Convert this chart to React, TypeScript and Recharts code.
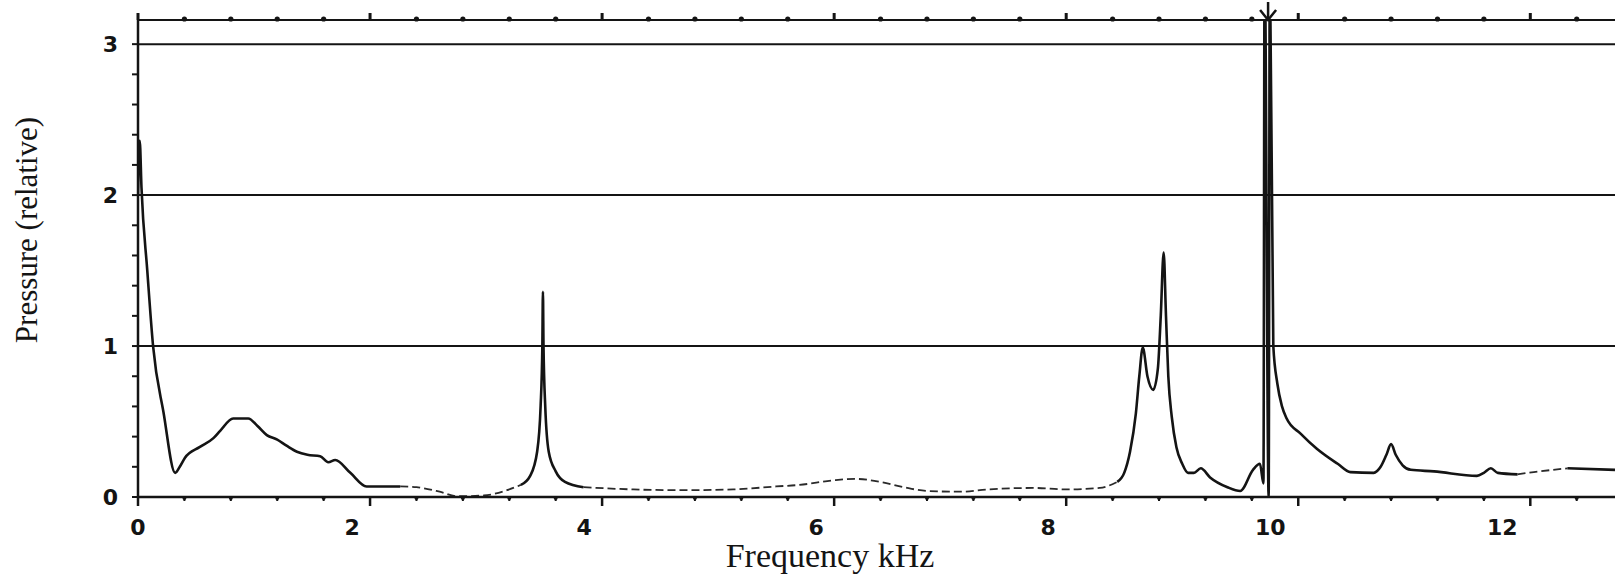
import { LineChart, Line, XAxis, YAxis, ReferenceLine, ReferenceDot } from "recharts";

// frequency (kHz) and relative pressure
const freq = [
  0, 0.015, 0.03, 0.08, 0.13, 0.22, 0.32, 0.36, 0.405, 0.53, 0.65, 0.71, 0.82, 0.95, 1.03, 1.11,
  1.2, 1.28, 1.37, 1.46, 1.57, 1.64, 1.7, 1.83, 1.97, 2.26, 2.4, 2.6, 2.75, 2.98, 3.18, 3.3,
  3.38, 3.44, 3.47, 3.485, 3.49, 3.495, 3.51, 3.54, 3.6, 3.68, 3.84, 4.27, 4.7, 5.13, 5.5, 5.7,
  5.99, 6.18, 6.4, 6.6, 6.8, 7.09, 7.32, 7.72, 8.0, 8.29, 8.44, 8.5, 8.55, 8.6, 8.63, 8.66,
  8.7, 8.75, 8.79, 8.815, 8.84, 8.86, 8.88, 8.91, 8.95, 9.0, 9.05, 9.1, 9.16, 9.24, 9.39, 9.5,
  9.61, 9.67, 9.7, 9.71, 9.745, 9.755, 9.785, 9.82, 9.86, 9.9, 10.02, 10.16, 10.34, 10.45, 10.65,
  10.71, 10.76, 10.8, 10.84, 10.9, 10.97, 11.17, 11.54, 11.6, 11.66, 11.72, 11.89, 12.03, 12.32,
  12.73,
];
const pressure = [
  2.0, 2.36, 2.05, 1.5, 1.0, 0.56, 0.16, 0.2, 0.26, 0.33, 0.39, 0.44, 0.52, 0.52, 0.47, 0.41,
  0.38, 0.34, 0.3, 0.28, 0.27, 0.23, 0.245, 0.16, 0.07, 0.07, 0.065, 0.035, 0.005, 0.01, 0.045, 0.08,
  0.14, 0.3, 0.6, 1.0, 1.36, 1.0, 0.6, 0.3, 0.17, 0.1, 0.065, 0.05, 0.045, 0.05, 0.07, 0.08,
  0.11, 0.12, 0.1, 0.065, 0.04, 0.035, 0.05, 0.06, 0.05, 0.06, 0.1, 0.16, 0.3, 0.55, 0.8, 0.99,
  0.8, 0.71, 0.85, 1.2, 1.62, 1.2, 0.8, 0.53, 0.33, 0.22, 0.16, 0.16, 0.19, 0.13, 0.065, 0.04,
  0.18, 0.22, 0.09, 3.6, 0, 3.6, 1.0, 0.75, 0.6, 0.52, 0.42, 0.32, 0.22, 0.165, 0.16,
  0.2, 0.28, 0.35, 0.28, 0.21, 0.18, 0.17, 0.14, 0.16, 0.19, 0.16, 0.15, 0.165, 0.19,
  0.18,
];
// stretches where the pen trace is faint / broken
const faintRanges = [
  [2.26, 3.3],
  [3.84, 8.44],
  [11.89, 12.32],
];

const xTicks = [
  0, 0.4, 0.8, 1.2, 1.6, 2, 2.4, 2.8, 3.2, 3.6, 4, 4.4, 4.8, 5.2, 5.6, 6, 6.4, 6.8, 7.2, 7.6, 8,
  8.4, 8.8, 9.2, 9.6, 10, 10.4, 10.8, 11.2, 11.6, 12, 12.4,
];
const xLabels = [0, 2, 4, 6, 8, 10, 12];
const yTicks = [0, 0.2, 0.4, 0.6, 0.8, 1, 1.2, 1.4, 1.6, 1.8, 2, 2.2, 2.4, 2.6, 2.8, 3];
const yLabels = [0, 1, 2, 3];
const gridValues = [1, 2, 3];
const overRangeFreq = 9.74;

const X_MAX = 12.73;
const Y_MAX = 3.16;
const ink = "#141414";
const tickFont = "'DejaVu Sans', sans-serif";
const serif = "'Liberation Serif', 'DejaVu Serif', serif";

const inFaint = (f: number, strict: boolean) =>
  faintRanges.some(([a, b]) => (strict ? f > a && f < b : f >= a && f <= b));

const data = freq.map((f, i) => ({
  f,
  solid: inFaint(f, true) ? null : pressure[i],
  faint: inFaint(f, false) ? pressure[i] : null,
}));

const isLabel = (v: number, list: number[]) => list.some((l) => Math.abs(l - v) < 1e-6);

function BottomTick(props: any) {
  const { x, y, payload } = props;
  const v = payload.value;
  const major = isLabel(v, xLabels);
  const dx = v === 0 ? 0 : v >= 10 ? -28 : -18;
  return (
    <g>
      {major ? (
        <line x1={x} x2={x} y1={y} y2={y + 9} stroke={ink} strokeWidth={2.5} />
      ) : (
        <>
          <line x1={x} x2={x} y1={y} y2={y + 4} stroke={ink} strokeWidth={2} />
          <circle cx={x} cy={y + 1} r={2} fill={ink} />
        </>
      )}
      {major && (
        <text
          x={x + dx}
          y={y + 38}
          textAnchor="middle"
          fontFamily={tickFont}
          fontWeight="bold"
          fontSize={22}
          fill={ink}
        >
          {v}
        </text>
      )}
    </g>
  );
}

function TopTick(props: any) {
  const { x, y, payload } = props;
  const major = isLabel(payload.value, xLabels);
  return major ? (
    <rect x={x - 1.5} y={y - 7} width={3} height={7} fill={ink} />
  ) : (
    <circle cx={x} cy={y - 1} r={2.6} fill={ink} />
  );
}

function LeftTick(props: any) {
  const { x, y, payload } = props;
  const v = payload.value;
  return (
    <g>
      <line x1={x - 6} x2={x} y1={y} y2={y} stroke={ink} strokeWidth={2} />
      {isLabel(v, yLabels) && (
        <text
          x={x - 20}
          y={y + 8}
          textAnchor="end"
          fontFamily={tickFont}
          fontWeight="bold"
          fontSize={22}
          fill={ink}
        >
          {v}
        </text>
      )}
    </g>
  );
}

function OverRangeMark(props: any) {
  const { cx, cy } = props;
  return (
    <g stroke={ink} strokeWidth={2.5} fill="none">
      <line x1={cx} x2={cx} y1={cy - 18} y2={cy} />
      <polyline points={`${cx - 8},${cy - 10} ${cx},${cy} ${cx + 8},${cy - 10}`} />
    </g>
  );
}

const xTitle = () => (
  <text x={830} y={567} textAnchor="middle" fontFamily={serif} fontSize={34} fill={ink}>
    Frequency kHz
  </text>
);

const yTitle = () => (
  <text
    x={30}
    y={230}
    transform="rotate(-90 30 230)"
    textAnchor="middle"
    dominantBaseline="middle"
    fontFamily={serif}
    fontSize={31}
    fill={ink}
  >
    Pressure (relative)
  </text>
);

export default function App() {
  return (
    <div style={{ position: "absolute", left: 0, top: 0, background: "#fff" }}>
      <LineChart width={1615} height={574} data={data} margin={{ top: 0, right: 0, bottom: 0, left: 0 }}>
        <XAxis
          dataKey="f"
          type="number"
          domain={[0, X_MAX]}
          allowDataOverflow
          ticks={xTicks}
          interval={0}
          tickSize={0}
          tickMargin={0}
          tickLine={false}
          tick={<BottomTick />}
          height={77}
          axisLine={{ stroke: ink, strokeWidth: 2.5 }}
          label={{ content: xTitle }}
        />
        <XAxis
          xAxisId="top"
          orientation="top"
          dataKey="f"
          type="number"
          domain={[0, X_MAX]}
          allowDataOverflow
          ticks={xTicks}
          interval={0}
          tickSize={0}
          tickMargin={0}
          tickLine={false}
          tick={<TopTick />}
          height={20}
          axisLine={{ stroke: ink, strokeWidth: 2 }}
        />
        <YAxis
          type="number"
          domain={[0, Y_MAX]}
          allowDataOverflow
          ticks={yTicks}
          interval={0}
          tickSize={0}
          tickMargin={0}
          tickLine={false}
          tick={<LeftTick />}
          width={138}
          axisLine={{ stroke: ink, strokeWidth: 2.5 }}
          label={{ content: yTitle }}
        />
        {gridValues.map((g) => (
          <ReferenceLine key={g} y={g} stroke={ink} strokeWidth={2} />
        ))}
        <Line
          dataKey="faint"
          type="monotone"
          stroke="#2a2a2a"
          strokeWidth={1.8}
          strokeDasharray="8 4"
          dot={false}
          connectNulls={false}
          isAnimationActive={false}
        />
        <Line
          dataKey="solid"
          type="monotone"
          stroke={ink}
          strokeWidth={2.6}
          dot={false}
          connectNulls={false}
          isAnimationActive={false}
        />
        <ReferenceDot x={overRangeFreq} y={Y_MAX} ifOverflow="visible" shape={<OverRangeMark />} />
      </LineChart>
    </div>
  );
}
